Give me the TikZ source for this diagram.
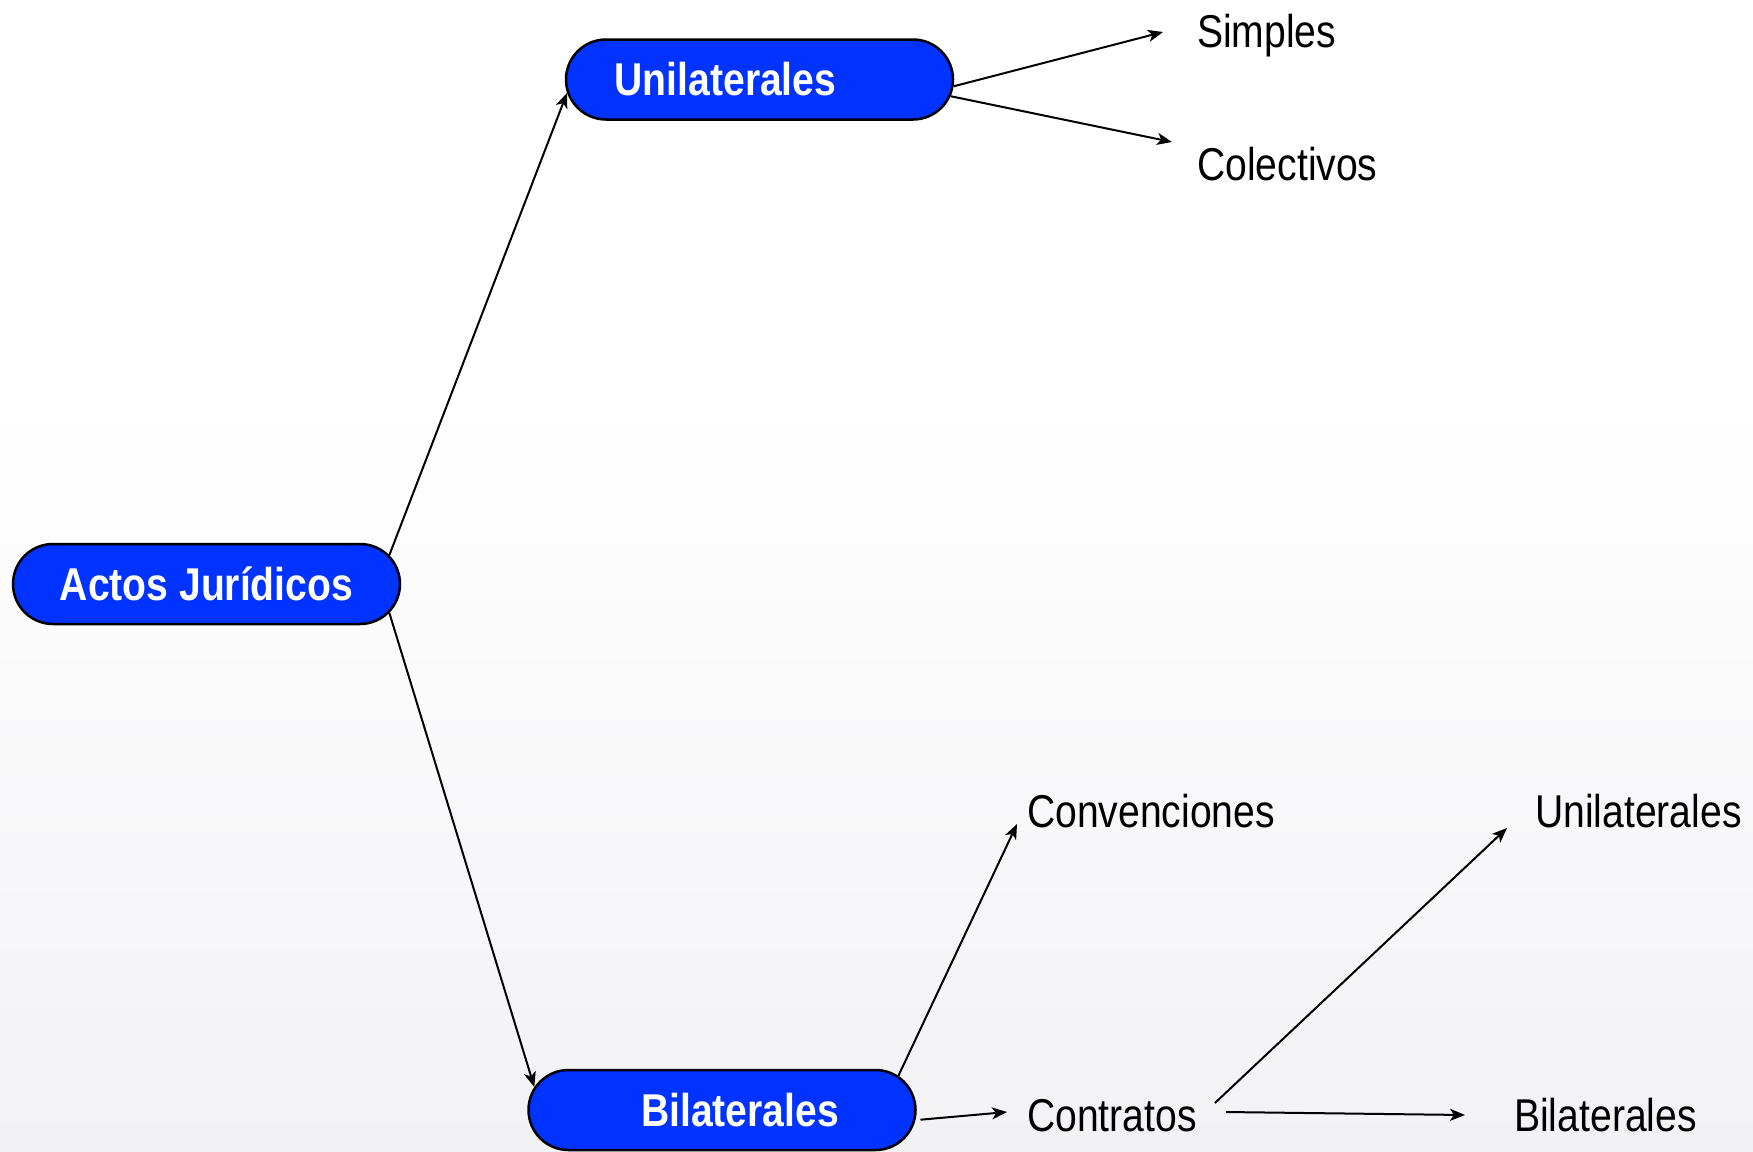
\documentclass[tikz,border=0pt]{standalone}
\usepackage{fontspec}
\newfontfamily\lab[FakeStretch=0.85]{Liberation Sans}
\usetikzlibrary{shapes.misc,arrows.meta}
\definecolor{boxblue}{RGB}{0,51,255}
\definecolor{bgbottom}{RGB}{242,242,245}

\begin{document}
\begin{tikzpicture}[x=1pt,y=-1pt,
  catbox/.style={rounded rectangle, draw=black, line width=2.5pt, fill=boxblue,
    text=white, minimum width=387pt, minimum height=80pt, inner sep=0pt,
    font=\lab\bfseries\fontsize{46pt}{50pt}\selectfont},
  leaf/.style={anchor=base west, inner sep=0pt,
    font=\lab\fontsize{46pt}{50pt}\selectfont},
  link/.style={line width=2pt, -{Stealth[length=15pt,width=12pt,inset=4pt]}}]

% soft page background: white above, fading to light grey below
\fill[white] (0,0) rectangle (1753,400);
\shade[top color=white, bottom color=bgbottom] (0,400) rectangle (1753,1151);
\useasboundingbox (0,0) rectangle (1753,1151);

% category boxes
\node[catbox] (actos) at (206.5,584) {Actos Jurídicos};
\node[catbox] (unil)  at (759.5,79.5) {Unilaterales\hspace{68pt}\mbox{}};
\node[catbox] (bil)   at (722,1110) {\hspace{36pt}Bilaterales};

% plain labels
\node[leaf] (simples)    at (1197,47)   {Simples};
\node[leaf] (colectivos) at (1197,180)  {Colectivos};
\node[leaf] (conv)       at (1027,827)  {Convenciones};
\node[leaf] (unil2)      at (1535,827)  {Unilaterales};
\node[leaf] (contratos)  at (1027,1131) {Contratos};
\node[leaf] (bil2)       at (1514,1131) {Bilaterales};

% connectors
\draw[link] (actos.9) -- (unil.184);
\draw[link] (actos.-9) -- (bil.173);
\draw[link] (unil.-2) -- ([shift={(-34,-15)}]simples.base west);
\draw[link] (unil.-5) -- ([shift={(-25,-38)}]colectivos.base west);
\draw[link] (bil.11) -- ([shift={(-10,-3)}]conv.base west);
\draw[link, shorten <=5pt] (bil.-3) -- ([shift={(-20,-19)}]contratos.base west);
\draw[link] ([shift={(18,-28)}]contratos.base east) -- ([shift={(-28,1)}]unil2.base west);
\draw[link] ([shift={(29,-19)}]contratos.base east) -- ([shift={(-49,-16)}]bil2.base west);
\end{tikzpicture}
\end{document}
